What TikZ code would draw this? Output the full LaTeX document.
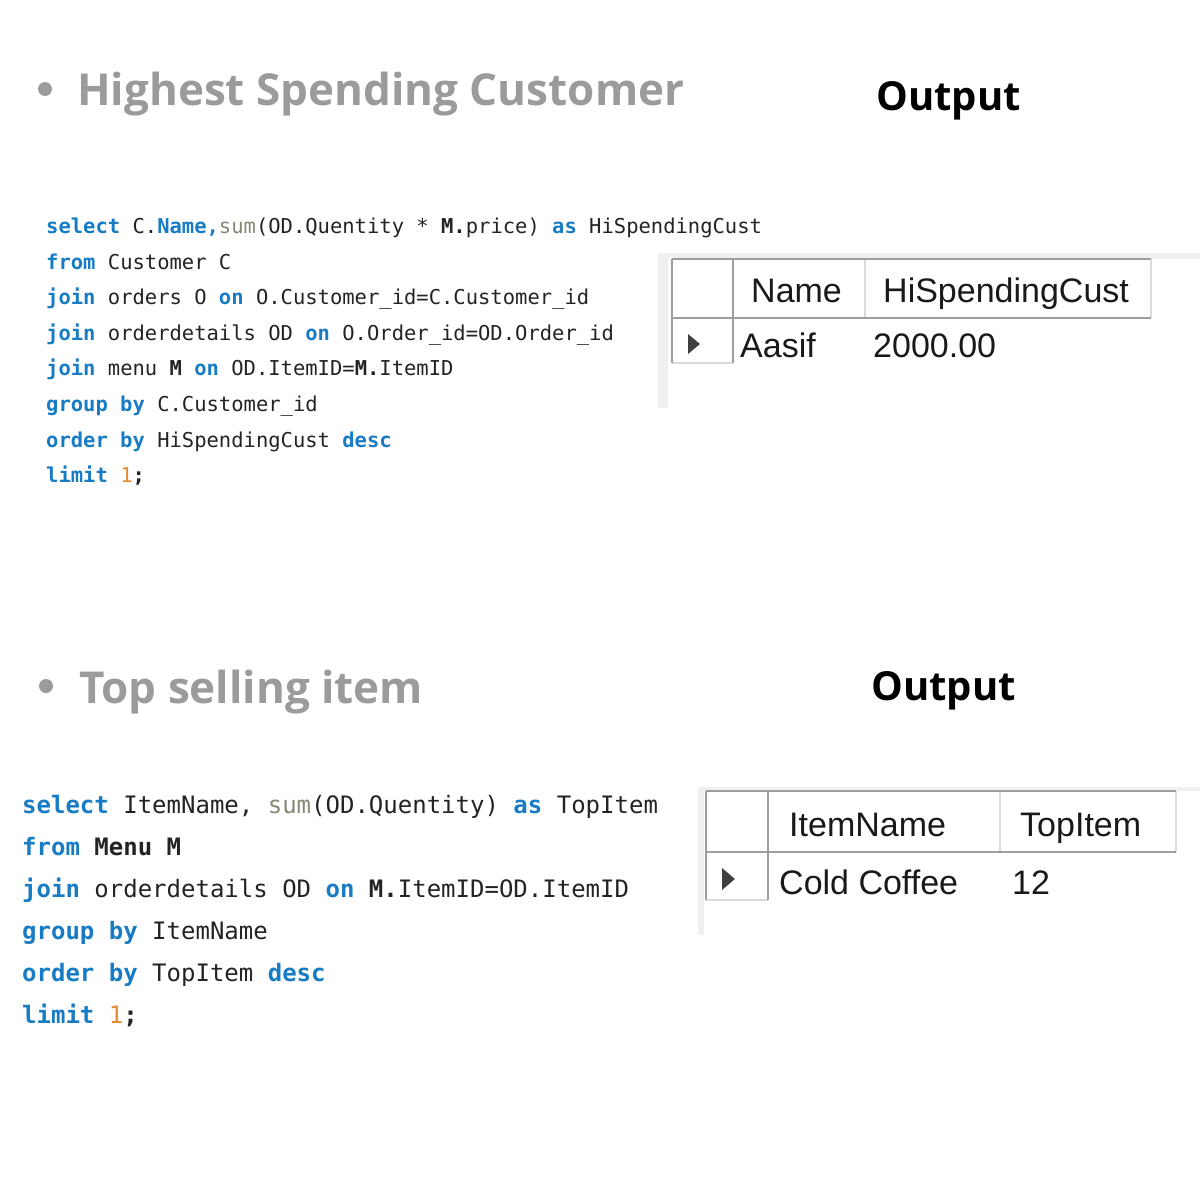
\documentclass[tikz,border=0pt]{standalone}
\usepackage{fontspec}
\setmainfont{Open Sans}
\setmonofont{DejaVu Sans Mono}
\newfontfamily\gridfont{Liberation Sans}

\definecolor{kwblue}{RGB}{24,124,196}
\definecolor{fngray}{RGB}{135,135,115}
\definecolor{numorange}{RGB}{228,140,50}
\definecolor{headgray}{RGB}{155,155,155}
\definecolor{codeink}{RGB}{35,35,35}

\newcommand{\sqlkw}[1]{\textcolor{kwblue}{\textbf{#1}}}
\newcommand{\sqlfn}[1]{\textcolor{fngray}{#1}}
\newcommand{\sqlnum}[1]{\textcolor{numorange}{#1}}

\tikzset{
  heading/.style={anchor=base west, inner sep=0pt, text=headgray,
    font=\fontsize{44}{50}\selectfont\bfseries},
  outlabel/.style={anchor=base west, inner sep=0pt, text=black,
    font=\fontsize{40}{44}\selectfont\bfseries},
  codeA/.style={anchor=base west, inner sep=0pt, text=codeink,
    font=\ttfamily\fontsize{20.5}{24}\selectfont},
  codeB/.style={anchor=base west, inner sep=0pt, text=codeink,
    font=\ttfamily\fontsize{24}{28}\selectfont},
  cell/.style={anchor=base west, inner sep=0pt, text=black!90,
    font=\gridfont\fontsize{34}{38}\selectfont},
  panel/.style={fill=black!6},
  gridline/.style={draw=black!38, line width=1.6pt},
  gridsoft/.style={draw=black!14, line width=1.6pt}
}

\begin{document}
\begin{tikzpicture}[x=1pt,y=-1pt]

	\useasboundingbox (0,0) rectangle (1200,1200);

	% first query
	\fill[headgray] (45,89) circle (7);
	\node[heading] (hsc) at (77,105) {Highest Spending Customer};
	\node[outlabel] (outA) at (876,110) {Output};

	\node[codeA] (qa1) at (46,233) {\sqlkw{select} C.\sqlkw{Name,}\sqlfn{sum}(OD.Quentity * \textbf{M.}price) \sqlkw{as} HiSpendingCust};
	\node[codeA] (qa2) at (46,269) {\sqlkw{from} Customer C};
	\node[codeA] (qa3) at (46,304) {\sqlkw{join} orders O \sqlkw{on} O.Customer\_id=C.Customer\_id};
	\node[codeA] (qa4) at (46,340) {\sqlkw{join} orderdetails OD \sqlkw{on} O.Order\_id=OD.Order\_id};
	\node[codeA] (qa5) at (46,375) {\sqlkw{join} menu \textbf{M} \sqlkw{on} OD.ItemID=\textbf{M.}ItemID};
	\node[codeA] (qa6) at (46,411) {\sqlkw{group by} C.Customer\_id};
	\node[codeA] (qa7) at (46,447) {\sqlkw{order by} HiSpendingCust \sqlkw{desc}};
	\node[codeA] (qa8) at (46,482) {\sqlkw{limit} \sqlnum{1}\textbf{;}};

	% result grid A
	\fill[panel] (658,253) rectangle (1200,259);
	\fill[panel] (658,253) rectangle (668,408);
	\draw[gridsoft] (865,259) -- (865,318);
	\draw[gridsoft] (1151,259) -- (1151,318);
	\draw[gridsoft] (672,363) -- (733,363);
	\draw[gridline] (672,259) -- (1151,259);
	\draw[gridline] (672,318) -- (1151,318);
	\draw[gridline] (672,259) -- (672,363);
	\draw[gridline] (733,259) -- (733,363);
	\fill[black!75] (688,334) -- (700,344) -- (688,354) -- cycle;
	\node[cell] (nameA) at (751,302) {Name};
	\node[cell] (totA) at (883,302) {HiSpendingCust};
	\node[cell] (valA) at (740,357) {Aasif};
	\node[cell] (sumA) at (873,357) {2000.00};

	% second query
	\fill[headgray] (46,686) circle (7);
	\node[heading] (tsi) at (79,703) {Top selling item};
	\node[outlabel] (outB) at (871,700) {Output};

	\node[codeB] (qb1) at (22,813) {\sqlkw{select} ItemName, \sqlfn{sum}(OD.Quentity) \sqlkw{as} TopItem};
	\node[codeB] (qb2) at (22,855) {\sqlkw{from} \textbf{Menu M}};
	\node[codeB] (qb3) at (22,897) {\sqlkw{join} orderdetails OD \sqlkw{on} \textbf{M.}ItemID=OD.ItemID};
	\node[codeB] (qb4) at (22,939) {\sqlkw{group by} ItemName};
	\node[codeB] (qb5) at (22,981) {\sqlkw{order by} TopItem \sqlkw{desc}};
	\node[codeB] (qb6) at (22,1023) {\sqlkw{limit} \sqlnum{1}\textbf{;}};

	% result grid B
	\fill[panel] (698,787) rectangle (1200,791);
	\fill[panel] (698,787) rectangle (704,935);
	\draw[gridsoft] (1000,791) -- (1000,852);
	\draw[gridsoft] (1176,791) -- (1176,852);
	\draw[gridsoft] (706,900) -- (768,900);
	\draw[gridline] (706,791) -- (1176,791);
	\draw[gridline] (706,852) -- (1176,852);
	\draw[gridline] (706,791) -- (706,900);
	\draw[gridline] (768,791) -- (768,900);
	\fill[black!75] (722,868) -- (735,879) -- (722,890) -- cycle;
	\node[cell] (nameB) at (789,836) {ItemName};
	\node[cell] (totB) at (1020,836) {TopItem};
	\node[cell] (valB) at (779,894) {Cold Coffee};
	\node[cell] (sumB) at (1012,894) {12};

\end{tikzpicture}
\end{document}
